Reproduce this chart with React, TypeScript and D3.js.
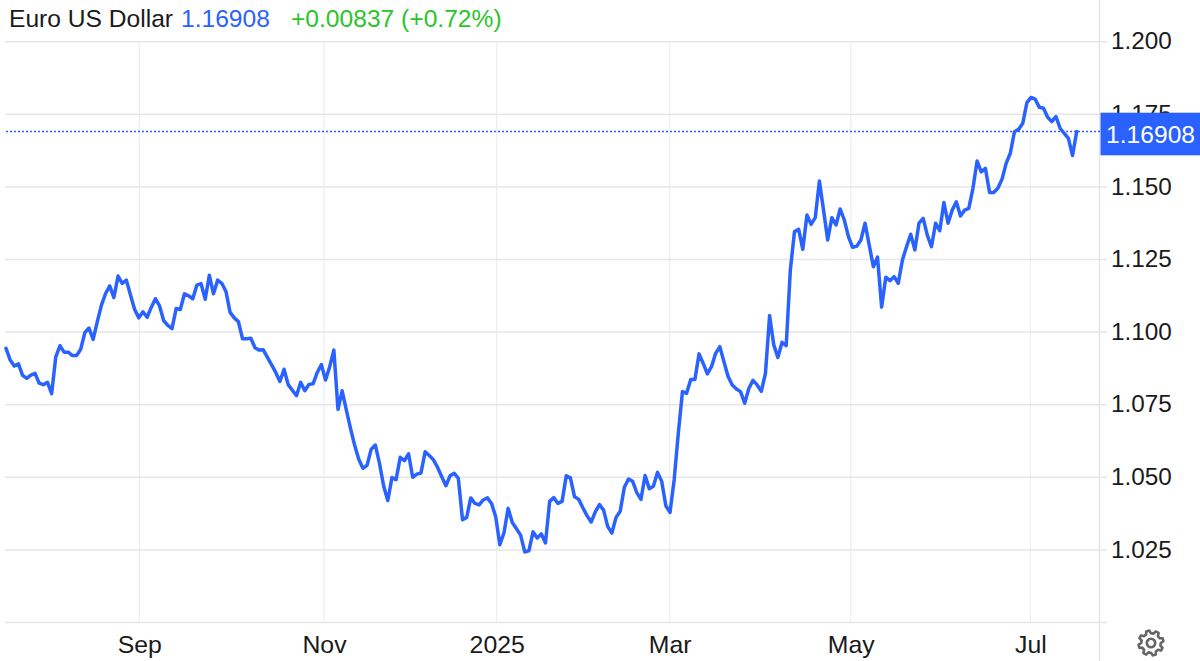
import React from "react";
import * as d3 from "d3";

const title = "Euro US Dollar";
const lastLabel = "1.16908";
const changeLabel = "+0.00837 (+0.72%)";
const lastValue = 1.16908;

const augToOct = [1.0944,1.0904,1.0883,1.0891,1.0851,1.0841,1.0852,1.0858,1.0824,1.0819,1.0827,1.0788,1.0915,1.0953,1.0931,1.0931,1.0919,1.0919,1.0941,1.0998,1.1014,1.0975,1.1036,1.1093,1.1133,1.1159,1.1119,1.1193,1.1168,1.1179,1.1128,1.1078,1.1049,1.1070,1.1051,1.1085,1.1115,1.1090,1.1039,1.1023,1.1012,1.1081,1.1078,1.1132,1.1125,1.1115,1.1162,1.1167,1.1113,1.1196,1.1132,1.1179,1.1168,1.1140,1.1068,1.1049,1.1036,1.0977,1.0977,1.0979,1.0946,1.0938,1.0939,1.0913,1.0887,1.0861,1.0830,1.0872,1.0819,1.0800,1.0781,1.0827,1.0798,1.0820,1.0822,1.0861,1.0888,1.0835,1.0881,1.0938,1.0734,1.0798,1.0732,1.0669];
const novToFeb = [1.0611,1.0562,1.0531,1.0541,1.0597,1.0611,1.0548,1.0470,1.0420,1.0499,1.0492,1.0569,1.0557,1.0581,1.0500,1.0511,1.0515,1.0588,1.0575,1.0560,1.0534,1.0502,1.0471,1.0505,1.0514,1.0496,1.0354,1.0362,1.0429,1.0410,1.0405,1.0422,1.0429,1.0410,1.0364,1.0268,1.0309,1.0393,1.0344,1.0323,1.0301,1.0243,1.0247,1.0312,1.0291,1.0305,1.0274,1.0417,1.0430,1.0410,1.0417,1.0505,1.0498,1.0433,1.0424,1.0395,1.0368,1.0346,1.0381,1.0406,1.0387,1.0330,1.0308,1.0362,1.0383,1.0466,1.0494,1.0486,1.0447,1.0424,1.0506,1.0461,1.0469,1.0517,1.0486,1.0402,1.0379,1.0491,1.0651];
const marToMay = [1.0795,1.0789,1.0837,1.0837,1.0925,1.0892,1.0856,1.0881,1.0927,1.0950,1.0898,1.0847,1.0818,1.0804,1.0795,1.0755,1.0806,1.0834,1.0818,1.0796,1.0858,1.1057,1.0956,1.0913,1.0965,1.0953,1.1214,1.1346,1.1354,1.1285,1.1403,1.1371,1.1394,1.1520,1.1420,1.1317,1.1394,1.1369,1.1424,1.1386,1.1329,1.1292,1.1296,1.1317,1.1375,1.1300,1.1225,1.1258,1.1086,1.1189,1.1177,1.1191,1.1168];
const mayToJul = [1.1248,1.1294,1.1337,1.1283,1.1375,1.1392,1.1334,1.1294,1.1375,1.1349,1.1446,1.1375,1.1420,1.1449,1.1400,1.1420,1.1426,1.1495,1.1589,1.1552,1.1564,1.1481,1.1481,1.1495,1.1526,1.1581,1.1616,1.1690,1.1698,1.1719,1.1790,1.1808,1.1802,1.1774,1.1771,1.1740,1.1725,1.1742,1.1702,1.1684,1.1667,1.1608,lastValue];
const values = [...augToOct, ...novToFeb, ...marToMay, ...mayToJul];

const yTicks = [1.2, 1.175, 1.15, 1.125, 1.1, 1.075, 1.05, 1.025];
const xTickLabels = ["Sep", "Nov", "2025", "Mar", "May", "Jul"];
const xTickShares = [0.1245, 0.2970, 0.4583, 0.6199, 0.7890, 0.9567];

const FONT = "'Liberation Sans', Arial, sans-serif";
const BLUE = "#2962ff";
const GRID = "#e6e6e6";
const VGRID = "#e9eff6";

const x = d3.scaleLinear().domain([0, values.length - 1]).range([6, 1076.7]);
const y = d3.scaleLinear().domain([1, 1.2]).range([622.5, 41.7]);
const line = d3.line<number>().x((_, i) => x(i)).y((d) => y(d));

const gearAngles = d3.range(0, 360, 7.5);
const gearRadius = gearAngles.map((a) => {
  const p = ((a + 22.5 + 360) % 45) / 45;
  return p < 0.38 ? 12.5 : p < 0.5 ? 12.5 - ((p - 0.38) / 0.12) * 2.8 : p < 0.88 ? 9.7 : 9.7 + ((p - 0.88) / 0.12) * 2.8;
});
const gear = d3.lineRadial<number>()
  .angle((_, i) => (gearAngles[i] * Math.PI) / 180)
  .radius((d) => d)
  .curve(d3.curveLinearClosed);

export default function App() {
  return (
    <svg width={1200} height={661} viewBox="0 0 1200 661"
      style={{ position: "absolute", left: 0, top: 0, display: "block", background: "#fff" }}>
      {xTickShares.map((s) => {
        const px = 6 + s * (1076.7 - 6);
        return <line key={s} x1={px} x2={px} y1={41.7} y2={622.5} stroke={VGRID} strokeWidth={1.2} />;
      })}
      {[...yTicks, 1].map((t) => (
        <line key={t} x1={5} x2={1107} y1={y(t)} y2={y(t)} stroke={GRID} strokeWidth={1.5} />
      ))}
      <line x1={1099.5} x2={1099.5} y1={0} y2={661} stroke={GRID} strokeWidth={1.5} />
      {yTicks.map((t) => (
        <text key={t} x={1111} y={y(t) - 1} dy="0.36em" fontFamily={FONT} fontSize={24.3} fill="#1a1a1a">
          {t.toFixed(3)}
        </text>
      ))}
      {xTickLabels.map((l, i) => (
        <text key={l} x={6.5 + xTickShares[i] * (1076.7 - 6)} y={653} textAnchor="middle"
          fontFamily={FONT} fontSize={24.8} fill="#1a1a1a">{l}</text>
      ))}
      <line x1={6} x2={1100} y1={y(lastValue)} y2={y(lastValue)} stroke={BLUE} strokeWidth={1.6} strokeDasharray="2 2" />
      <path d={line(values) ?? ""} fill="none" stroke={BLUE} strokeWidth={3.5} strokeLinejoin="round" strokeLinecap="round" />
      <rect x={1100.5} y={112.7} width={99.5} height={42.6} fill={BLUE} />
      <text x={1195} y={134} dy="0.36em" textAnchor="end" fontFamily={FONT} fontSize={24.6} fill="#fff">{lastLabel}</text>
      <text y={27} fontFamily={FONT} fontSize={24.6}>
        <tspan x={9} fill="#1a1a1a">{title}</tspan>
        <tspan x={181} fill={BLUE}>{lastLabel}</tspan>
        <tspan x={291} fill="#2ac52a">{changeLabel}</tspan>
      </text>
      <g transform="translate(1151,643)" fill="none" stroke="#666" strokeWidth={2.6} strokeLinejoin="round">
        <path d={gear(gearRadius) ?? ""} />
        <circle r={4.2} />
      </g>
    </svg>
  );
}
